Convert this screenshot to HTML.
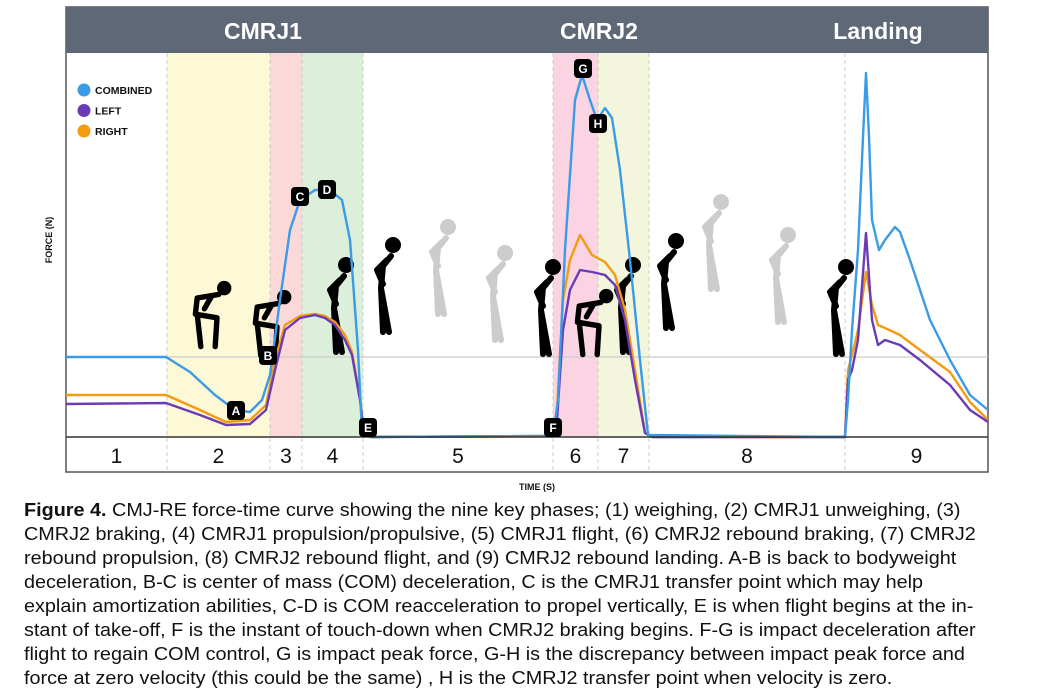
<!DOCTYPE html>
<html><head><meta charset="utf-8">
<style>
body{margin:0;background:#fff;width:1050px;height:690px;overflow:hidden;font-family:"Liberation Sans",sans-serif}
#cap{position:absolute;left:24px;top:498px;font-size:18px;line-height:24px;color:#111;white-space:nowrap;transform:scaleX(1.1);transform-origin:0 0}
</style></head><body>
<svg id="chart" width="1050" height="495" style="position:absolute;left:0;top:0"></svg>
<div id="cap"><b>Figure 4.</b> CMJ-RE force-time curve showing the nine key phases; (1) weighing, (2) CMRJ1 unweighing, (3)<br>CMRJ2 braking, (4) CMRJ1 propulsion/propulsive, (5) CMRJ1 flight, (6) CMRJ2 rebound braking, (7) CMRJ2<br>rebound propulsion, (8) CMRJ2 rebound flight, and (9) CMRJ2 rebound landing. A-B is back to bodyweight<br>deceleration, B-C is center of mass (COM) deceleration, C is the CMRJ1 transfer point which may help<br>explain amortization abilities, C-D is COM reacceleration to propel vertically, E is when flight begins at the in-<br>stant of take-off, F is the instant of touch-down when CMRJ2 braking begins. F-G is impact deceleration after<br>flight to regain COM control, G is impact peak force, G-H is the discrepancy between impact peak force and<br>force at zero velocity (this could be the same) , H is the CMRJ2 transfer point when velocity is zero.</div>
<script>
const combinedT=[0,0.5,0.62,0.745,0.845,0.92,0.98,1.02,1.07,1.12,1.17,1.245,1.32,1.38,1.42,1.46,1.48,1.52,2.435,2.46,2.495,2.545,2.58,2.62,2.655,2.695,2.73,2.77,2.82,2.87,2.91,3.895,3.91,3.93,3.96,3.985,4.0,4.015,4.03,4.065,4.095,4.145,4.17,4.22,4.32,4.42,4.52,4.61];
const combinedF=[800,800,650,420,270,250,370,620,1370,2070,2370,2470,2470,2370,1970,870,50,0,10,370,1870,3370,3620,3370,3170,3290,3190,2670,1770,770,20,0,370,1070,1870,3000,3640,3000,2170,1870,1970,2100,2050,1770,1170,770,420,270];
const sideT=[0,0.5,0.67,0.8,0.92,1.0,1.045,1.095,1.17,1.245,1.295,1.345,1.395,1.43,1.47,1.49,1.53,2.435,2.455,2.485,2.52,2.57,2.63,2.695,2.745,2.795,2.845,2.895,2.93,3.895,3.91,3.93,3.96,4.0,4.03,4.06,4.095,4.17,4.27,4.42,4.52,4.61];
const leftF=[330,340,220,120,130,270,670,1070,1190,1220,1190,1120,970,820,370,40,0,10,170,1070,1470,1670,1650,1620,1520,1170,570,40,0,0,570,670,970,2040,1170,920,970,920,770,520,270,150];
const rightF=[420,420,270,150,170,320,770,1120,1210,1230,1210,1150,1020,850,390,40,0,10,270,1370,1770,2020,1820,1750,1620,1270,670,40,0,0,670,820,1070,1650,1320,1120,1090,1020,870,650,350,170];
const phaseLabels=["1","2","3","4","5","6","7","8","9"];
const phaseBounds=[0,0.505,1.02,1.18,1.485,2.435,2.66,2.915,3.895,4.61];
const markerLabels=["A","B","C","D","E","F","G","H"];
const markerT=[0.85,1.01,1.17,1.305,1.51,2.435,2.585,2.66];
const markerF=[270,820,2410,2480,100,100,3690,3140];
const headers=["CMRJ1","CMRJ2","Landing"];
const headerT=[0.985,2.665,4.06];
const NS="http://www.w3.org/2000/svg";
const svg=document.getElementById('chart');
const X0=66,X1=988,YTOP=53,YBASE=437;
const x=t=>X0+t*200;
const y=f=>YBASE-f/10;
function el(tag,attrs,parent){const e=document.createElementNS(NS,tag);for(const k in attrs)e.setAttribute(k,attrs[k]);(parent||svg).appendChild(e);return e;}
let r=el('rect',{x:X0,y:7,width:X1-X0,height:465,fill:'#fff',stroke:'#555','stroke-width':1.5});


let hdr=el('rect',{x:X0,y:7,width:X1-X0,height:46,fill:'#5e6877'});


const bandColors=[null,'#fdf8d6','#fad9d8','#dcefdb',null,'#fbd4e4','#f3f5dc',null,null];
for(let i=0;i<9;i++){if(!bandColors[i])continue;
 const b=el('rect',{x:x(phaseBounds[i]),y:YTOP,width:x(phaseBounds[i+1])-x(phaseBounds[i]),height:YBASE-YTOP,fill:bandColors[i]});
 
 
}
for(let i=1;i<9;i++){const d=el('line',{x1:x(phaseBounds[i]),x2:x(phaseBounds[i]),y1:YTOP,y2:472,stroke:'#ccc','stroke-dasharray':'4 3','stroke-width':1});
 
 }
let bw=el('line',{x1:X0,x2:X1,y1:y(800),y2:y(800),stroke:'#ccc','stroke-width':1.2});


headers.forEach((h,i)=>{const t=el('text',{x:x(headerT[i]),y:39,'text-anchor':'middle',fill:'#fff','font-size':23,'font-weight':'bold'});t.textContent=h;
 
 });
function fig(cx,top,sc,pose,col){const g=el('g',{transform:`translate(${cx},${top}) scale(${sc})`,stroke:col,fill:'none','stroke-width':6,'stroke-linecap':'round','stroke-linejoin':'round'});
 
 
 if(pose==='stand'){el('circle',{cx:8,cy:9,r:8,fill:col,stroke:'none'},g);
  el('path',{d:'M6 20 L-2 30 L-4 52 M-4 52 L-2 96 M-4 52 L4 96 M2 24 L-8 34 L-2 48'},g);}
 else{el('circle',{cx:18,cy:9,r:8,fill:col,stroke:'none'},g);
  el('path',{d:'M12 16 L-12 20 L-14 38 L10 42 M-12 38 L-8 74 M10 42 L8 74 M4 18 L-4 32'},g);}
}
fig(208,280,0.9,'squat','#000');fig(268,289,0.9,'squat','#000');
fig(338,256,1,'stand','#000');fig(385,236,1,'stand','#000');
fig(440,218,1,'stand','#ccc');fig(497,244,1,'stand','#ccc');
fig(545,258,1,'stand','#000');fig(590,288,0.9,'squat','#000');
fig(625,256,1,'stand','#000');fig(668,232,1,'stand','#000');
fig(713,193,1,'stand','#ccc');fig(780,226,1,'stand','#ccc');
fig(838,258,1,'stand','#000');
const clip=el('clipPath',{id:'pc'});el('rect',{x:X0,y:YTOP,width:X1-X0,height:YBASE-YTOP+2},clip);
function line(T,F,col,name){const p=el('polyline',{points:T.map((t,i)=>x(t)+','+y(F[i])).join(' '),fill:'none',stroke:col,'stroke-width':2.4,'stroke-linejoin':'round','clip-path':'url(#pc)'});
 
 }
line(sideT,rightF,'#f59a13','right-force-line');
line(sideT,leftF,'#6a3bb5','left-force-line');
line(combinedT,combinedF,'#3a9be6','combined-force-line');
let ax=el('line',{x1:X0,x2:X1,y1:YBASE,y2:YBASE,stroke:'#333','stroke-width':1.5});


markerLabels.forEach((m,i)=>{const g=el('g',{});
 
 
 const cx=x(markerT[i]),cy=y(markerF[i]);
 el('rect',{x:cx-9,y:cy-9,width:18,height:19,rx:4,fill:'#000'},g);
 const t=el('text',{x:cx,y:cy+5,'text-anchor':'middle',fill:'#fff','font-size':12,'font-weight':'bold'},g);t.textContent=m;});
phaseLabels.forEach((p,i)=>{const t=el('text',{x:(x(phaseBounds[i])+x(phaseBounds[i+1]))/2,y:463,'text-anchor':'middle',fill:'#111','font-size':21});t.textContent=p;
 
 });
const legN=['COMBINED','LEFT','RIGHT'],legC=['#3a9be6','#6a3bb5','#f59a13'];
legN.forEach((n,i)=>{const g=el('g',{});
 
 
 el('circle',{cx:84,cy:90+i*20.5,r:6.5,fill:legC[i]},g);
 const t=el('text',{x:95,y:94+i*20.5,'font-size':10.5,'font-weight':'bold',fill:'#111'},g);t.textContent=n;});
let yt=el('text',{x:0,y:0,transform:'translate(52,240) rotate(-90)','text-anchor':'middle','font-size':9,'font-weight':'bold',fill:'#111'});yt.textContent='FORCE (N)';


let xt=el('text',{x:537,y:490,'text-anchor':'middle','font-size':9,'font-weight':'bold',fill:'#111'});xt.textContent='TIME (S)';


</script>
</body></html>
